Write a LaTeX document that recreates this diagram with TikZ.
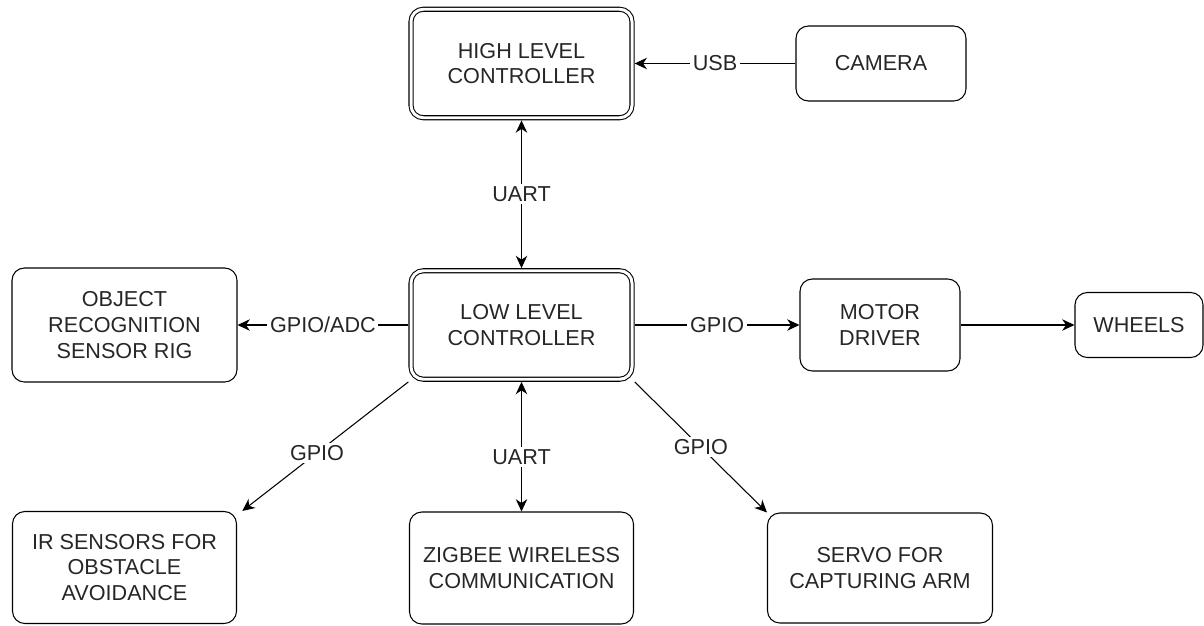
\documentclass[tikz,border=0pt]{standalone}
\usepackage{fontspec}
\setmainfont{Liberation Sans}
\usetikzlibrary{arrows.meta}

\begin{document}
\begin{tikzpicture}[node distance=5cm,
    >={Stealth[length=7pt,width=6.5pt,inset=2.2pt]},
    every node/.style={font=\fontsize{12.3}{14.6}\selectfont, text=black!85},
    box/.style={draw, rectangle, rounded corners=7pt, line width=0.6pt, align=center, inner sep=0pt},
    ctrl/.style={box, double, double distance=1.7pt, outer sep=1.5pt, minimum width=4.42cm, minimum height=2.17cm},
    lbl/.style={fill=white, inner sep=1.5pt},
    link/.style={line width=0.6pt}]
    \useasboundingbox (0,0) rectangle (24.08,-12.5);
    \node[ctrl] (LowCtrl) at (10.43,-6.5) {LOW LEVEL\\CONTROLLER};
    \node[ctrl, above of=LowCtrl, yshift=0.23cm] (HighCtrl) {HIGH LEVEL\\CONTROLLER};
    \node[box, right of=HighCtrl, xshift=2.19cm, minimum width=3.4cm, minimum height=1.5cm] (Camera) {CAMERA};
    \node[box, left of=LowCtrl, xshift=-2.94cm, minimum width=4.5cm, minimum height=2.28cm] (ObjRig) {OBJECT\\RECOGNITION\\SENSOR RIG};
    \node[box, right of=LowCtrl, xshift=2.17cm, minimum width=3.2cm, minimum height=1.84cm] (Motor) {MOTOR\\DRIVER};
    \node[box, right of=Motor, xshift=0.18cm, minimum width=2.56cm, minimum height=1.3cm] (Wheels) {WHEELS};
    \node[box, below of=ObjRig, yshift=0.15cm, minimum width=4.48cm, minimum height=2.24cm] (IRSens) {IR SENSORS FOR\\OBSTACLE\\AVOIDANCE};
    \node[box, below of=LowCtrl, yshift=0.14cm, minimum width=4.48cm, minimum height=2.24cm] (Zigbee) {ZIGBEE WIRELESS\\COMMUNICATION};
    \node[box, below of=Motor, yshift=0.14cm, minimum width=4.5cm, minimum height=2.2cm] (Servo) {SERVO FOR\\CAPTURING ARM};

    \draw[->, link] (Camera) -- node[lbl] {USB} (HighCtrl);
    \draw[<->, link] (HighCtrl) -- node[lbl] {UART} (LowCtrl);
    \draw[->, link] (LowCtrl) -- node[lbl] {GPIO/ADC} (ObjRig);
    \draw[->, link] (LowCtrl) -- node[lbl] {GPIO} (Motor);
    \draw[->, link] (Motor) -- (Wheels);
    \draw[->, link] (LowCtrl.south west) -- node[lbl, pos=0.55] {GPIO} ([xshift=3pt]IRSens.north east);
    \draw[<->, link] (LowCtrl) -- node[lbl, pos=0.58] {UART} (Zigbee);
    \draw[->, link] (LowCtrl.south east) -- node[lbl] {GPIO} (Servo.north west);
\end{tikzpicture}
\end{document}
